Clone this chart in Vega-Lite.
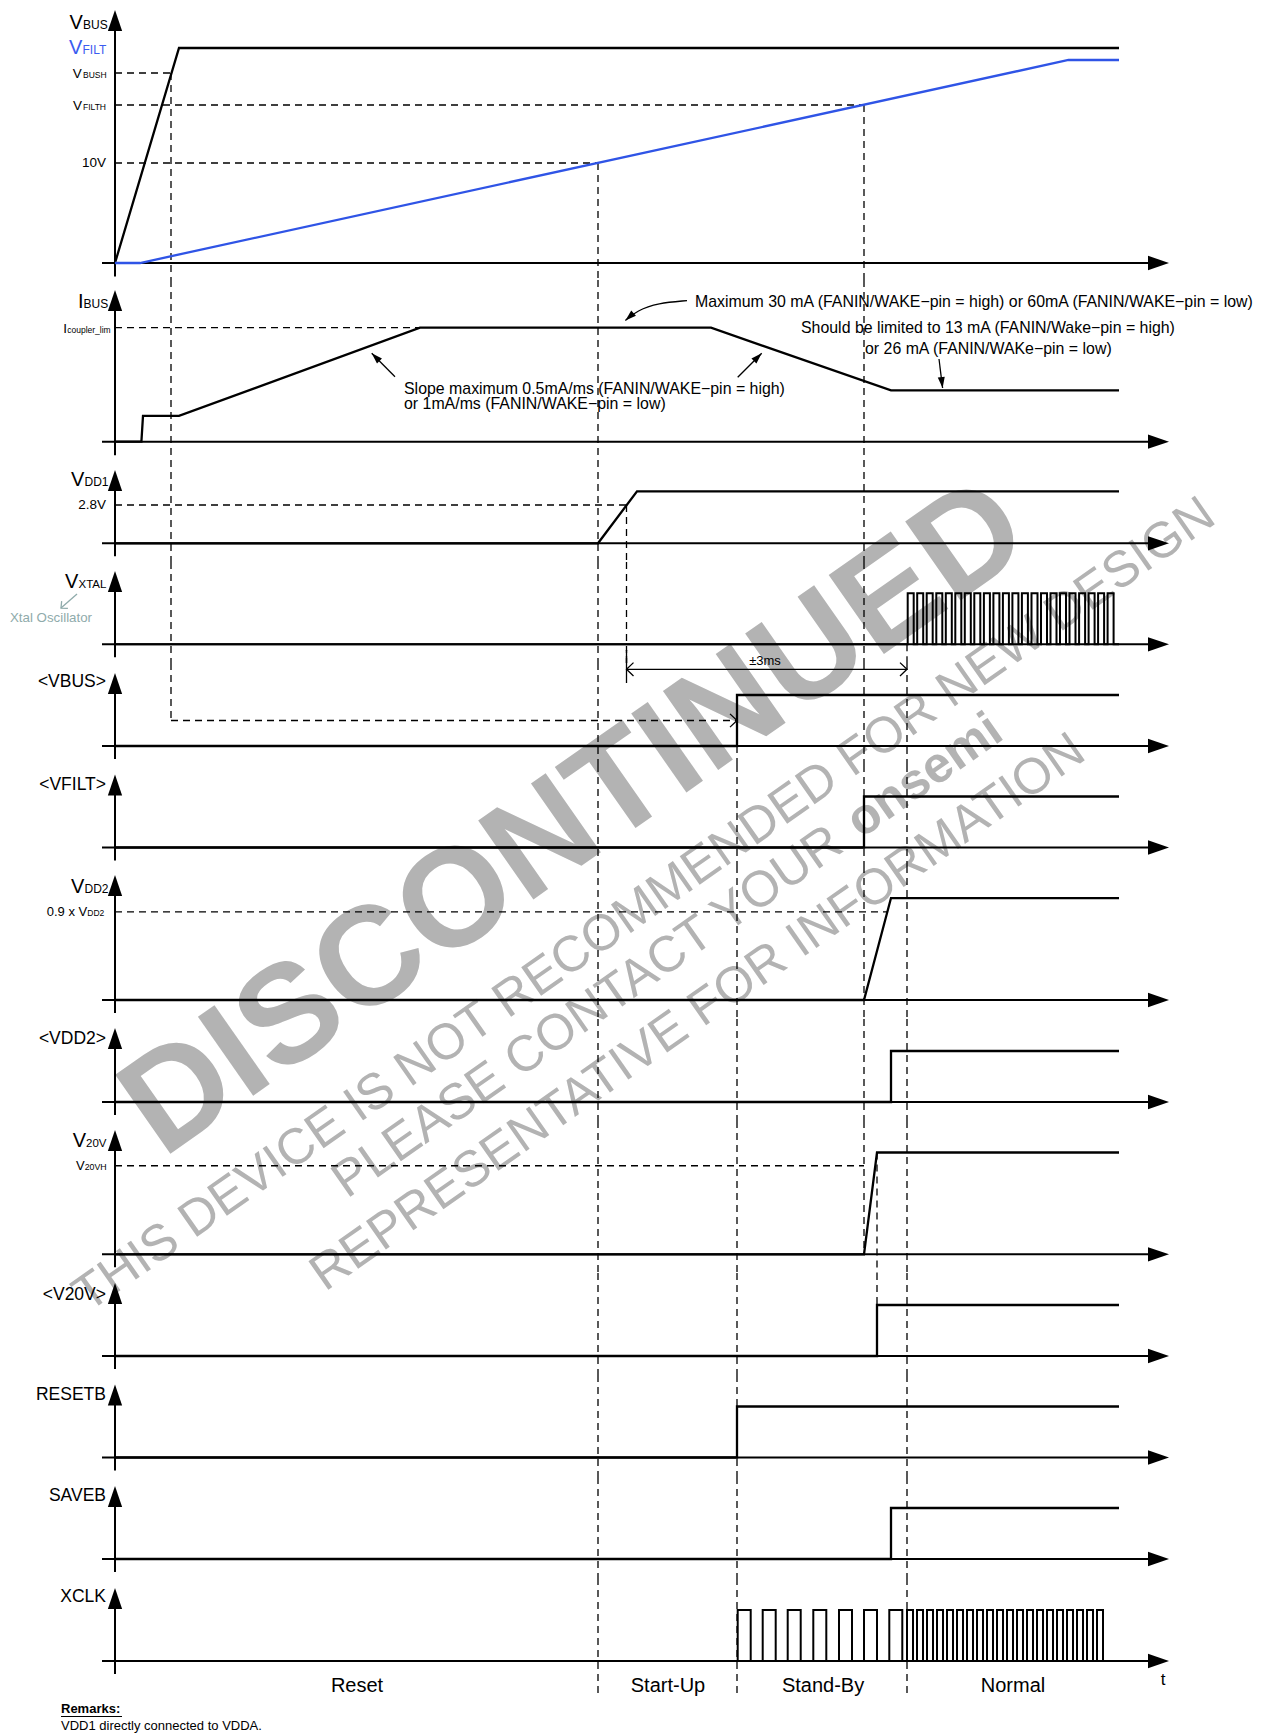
{
"$schema":"https://vega.github.io/schema/vega-lite/v6.json",
"padding":0,
"background":"white",
"spacing":0,
"bounds":"flush",
"config":{"view":{"stroke":null},"font":"Liberation Sans","text":{"font":"Liberation Sans"}},
"resolve":{"scale":{"x":"independent","y":"independent"}},
"datasets":{
"sig":[
{"s":"VBUS","t":0,"v":0},{"s":"VBUS","t":6.4,"v":21.5},{"s":"VBUS","t":100.4,"v":21.5},
{"s":"VFILT","t":0,"v":0},{"s":"VFILT","t":2.5,"v":0},{"s":"VFILT","t":95.35,"v":20.3},{"s":"VFILT","t":100.4,"v":20.3},
{"s":"IBUS","t":0,"v":0},{"s":"IBUS","t":2.64,"v":0},{"s":"IBUS","t":2.8,"v":6.8},{"s":"IBUS","t":6.4,"v":6.8},{"s":"IBUS","t":30.5,"v":30},{"s":"IBUS","t":59.6,"v":30},{"s":"IBUS","t":77.6,"v":13.5},{"s":"IBUS","t":100.4,"v":13.5},
{"s":"VDD1","t":0,"v":0},{"s":"VDD1","t":48.3,"v":0},{"s":"VDD1","t":52.2,"v":3.8},{"s":"VDD1","t":100.4,"v":3.8},
{"s":"VDD2","t":0,"v":0},{"s":"VDD2","t":74.9,"v":0},{"s":"VDD2","t":77.6,"v":1.04},{"s":"VDD2","t":100.4,"v":1.04},
{"s":"V20V","t":0,"v":0},{"s":"V20V","t":74.9,"v":0},{"s":"V20V","t":76.2,"v":20},{"s":"V20V","t":100.4,"v":20}
],
"step":[
{"s":"VXTAL","t":0,"v":0},
{"s":"VXTAL","t":79.27,"v":1},{"s":"VXTAL","t":79.87,"v":0},{"s":"VXTAL","t":80.22,"v":1},{"s":"VXTAL","t":80.82,"v":0},
{"s":"VXTAL","t":81.17,"v":1},{"s":"VXTAL","t":81.77,"v":0},{"s":"VXTAL","t":82.13,"v":1},{"s":"VXTAL","t":82.73,"v":0},
{"s":"VXTAL","t":83.08,"v":1},{"s":"VXTAL","t":83.68,"v":0},{"s":"VXTAL","t":84.03,"v":1},{"s":"VXTAL","t":84.63,"v":0},
{"s":"VXTAL","t":84.98,"v":1},{"s":"VXTAL","t":85.58,"v":0},{"s":"VXTAL","t":85.93,"v":1},{"s":"VXTAL","t":86.53,"v":0},
{"s":"VXTAL","t":86.89,"v":1},{"s":"VXTAL","t":87.49,"v":0},{"s":"VXTAL","t":87.84,"v":1},{"s":"VXTAL","t":88.44,"v":0},
{"s":"VXTAL","t":88.79,"v":1},{"s":"VXTAL","t":89.39,"v":0},{"s":"VXTAL","t":89.74,"v":1},{"s":"VXTAL","t":90.34,"v":0},
{"s":"VXTAL","t":90.69,"v":1},{"s":"VXTAL","t":91.29,"v":0},{"s":"VXTAL","t":91.65,"v":1},{"s":"VXTAL","t":92.25,"v":0},
{"s":"VXTAL","t":92.6,"v":1},{"s":"VXTAL","t":93.2,"v":0},{"s":"VXTAL","t":93.55,"v":1},{"s":"VXTAL","t":94.15,"v":0},
{"s":"VXTAL","t":94.5,"v":1},{"s":"VXTAL","t":95.1,"v":0},{"s":"VXTAL","t":95.45,"v":1},{"s":"VXTAL","t":96.05,"v":0},
{"s":"VXTAL","t":96.41,"v":1},{"s":"VXTAL","t":97.01,"v":0},{"s":"VXTAL","t":97.36,"v":1},{"s":"VXTAL","t":97.96,"v":0},
{"s":"VXTAL","t":98.31,"v":1},{"s":"VXTAL","t":98.91,"v":0},{"s":"VXTAL","t":99.26,"v":1},{"s":"VXTAL","t":99.86,"v":0},
{"s":"VXTAL","t":100.4,"v":0},
{"s":"<VBUS>","t":0,"v":0},{"s":"<VBUS>","t":62.2,"v":1},{"s":"<VBUS>","t":100.4,"v":1},
{"s":"<VFILT>","t":0,"v":0},{"s":"<VFILT>","t":74.9,"v":1},{"s":"<VFILT>","t":100.4,"v":1},
{"s":"<VDD2>","t":0,"v":0},{"s":"<VDD2>","t":77.6,"v":1},{"s":"<VDD2>","t":100.4,"v":1},
{"s":"<V20V>","t":0,"v":0},{"s":"<V20V>","t":76.2,"v":1},{"s":"<V20V>","t":100.4,"v":1},
{"s":"RESETB","t":0,"v":0},{"s":"RESETB","t":62.2,"v":1},{"s":"RESETB","t":100.4,"v":1},
{"s":"SAVEB","t":0,"v":0},{"s":"SAVEB","t":77.6,"v":1},{"s":"SAVEB","t":100.4,"v":1},
{"s":"XCLK","t":0,"v":0},
{"s":"XCLK","t":62.27,"v":1},{"s":"XCLK","t":63.57,"v":0},{"s":"XCLK","t":64.77,"v":1},{"s":"XCLK","t":66.07,"v":0},
{"s":"XCLK","t":67.27,"v":1},{"s":"XCLK","t":68.57,"v":0},{"s":"XCLK","t":69.83,"v":1},{"s":"XCLK","t":71.13,"v":0},
{"s":"XCLK","t":72.4,"v":1},{"s":"XCLK","t":73.7,"v":0},{"s":"XCLK","t":74.9,"v":1},{"s":"XCLK","t":76.2,"v":0},
{"s":"XCLK","t":77.43,"v":1},{"s":"XCLK","t":78.73,"v":0},
{"s":"XCLK","t":79.2,"v":1},{"s":"XCLK","t":79.8,"v":0},{"s":"XCLK","t":80.2,"v":1},{"s":"XCLK","t":80.8,"v":0},
{"s":"XCLK","t":81.2,"v":1},{"s":"XCLK","t":81.8,"v":0},{"s":"XCLK","t":82.2,"v":1},{"s":"XCLK","t":82.8,"v":0},
{"s":"XCLK","t":83.2,"v":1},{"s":"XCLK","t":83.8,"v":0},{"s":"XCLK","t":84.2,"v":1},{"s":"XCLK","t":84.8,"v":0},
{"s":"XCLK","t":85.2,"v":1},{"s":"XCLK","t":85.8,"v":0},{"s":"XCLK","t":86.2,"v":1},{"s":"XCLK","t":86.8,"v":0},
{"s":"XCLK","t":87.2,"v":1},{"s":"XCLK","t":87.8,"v":0},{"s":"XCLK","t":88.2,"v":1},{"s":"XCLK","t":88.8,"v":0},
{"s":"XCLK","t":89.2,"v":1},{"s":"XCLK","t":89.8,"v":0},{"s":"XCLK","t":90.2,"v":1},{"s":"XCLK","t":90.8,"v":0},
{"s":"XCLK","t":91.2,"v":1},{"s":"XCLK","t":91.8,"v":0},{"s":"XCLK","t":92.2,"v":1},{"s":"XCLK","t":92.8,"v":0},
{"s":"XCLK","t":93.2,"v":1},{"s":"XCLK","t":93.8,"v":0},{"s":"XCLK","t":94.2,"v":1},{"s":"XCLK","t":94.8,"v":0},
{"s":"XCLK","t":95.2,"v":1},{"s":"XCLK","t":95.8,"v":0},{"s":"XCLK","t":96.2,"v":1},{"s":"XCLK","t":96.8,"v":0},
{"s":"XCLK","t":97.2,"v":1},{"s":"XCLK","t":97.8,"v":0},{"s":"XCLK","t":98.2,"v":1},{"s":"XCLK","t":98.8,"v":0},
{"s":"XCLK","t":100.4,"v":0}
],
"curve":[{"t":57.2,"v":37.13},{"t":54.3,"v":36.5},{"t":52.2,"v":34.5},{"t":51.04,"v":31.9}],
"seg":[
{"p":1,"k":"a","t":0,"v":-1.35,"t2":0,"v2":24.2},{"p":1,"k":"a","t":-1.3,"v":0,"t2":103.5,"v2":0},
{"p":1,"k":"d","t":0,"v":19,"t2":5.6,"v2":19},{"p":1,"k":"d","t":0,"v":15.8,"t2":74.9,"v2":15.8},{"p":1,"k":"d","t":0,"v":10,"t2":48.3,"v2":10},
{"p":1,"k":"d","t":5.6,"v":19,"t2":5.6,"v2":-1.7},{"p":1,"k":"d","t":48.3,"v":10,"t2":48.3,"v2":-1.7},{"p":1,"k":"d","t":74.9,"v":15.8,"t2":74.9,"v2":-1.7},
{"p":2,"k":"a","t":0,"v":-3.55,"t2":0,"v2":37.0},{"p":2,"k":"a","t":-1.3,"v":0,"t2":103.5,"v2":0},
{"p":2,"k":"d","t":0,"v":30,"t2":30.5,"v2":30},{"p":2,"k":"d","t":5.6,"v":42.553,"t2":5.6,"v2":-4.816},{"p":2,"k":"d","t":48.3,"v":42.553,"t2":48.3,"v2":-4.816},{"p":2,"k":"d","t":74.9,"v":42.553,"t2":74.9,"v2":-4.816},
{"p":2,"k":"s","t":28.0,"v":17.1,"t2":25.67,"v2":23.26},{"p":2,"k":"s","t":62.27,"v":16.95,"t2":64.67,"v2":23.26},{"p":2,"k":"s","t":82.4,"v":21.76,"t2":82.76,"v2":14.13},
{"p":3,"k":"a","t":0,"v":-0.95,"t2":0,"v2":4.56},{"p":3,"k":"a","t":-1.3,"v":0,"t2":103.5,"v2":0},
{"p":3,"k":"d","t":0,"v":2.8,"t2":51.15,"v2":2.8},{"p":3,"k":"d","t":5.6,"v":6.089,"t2":5.6,"v2":-1.367},{"p":3,"k":"d","t":48.3,"v":6.089,"t2":48.3,"v2":-1.367},{"p":3,"k":"d","t":74.9,"v":6.089,"t2":74.9,"v2":-1.367},{"p":3,"k":"d","t":51.15,"v":2.8,"t2":51.15,"v2":-1.367},
{"p":4,"k":"a","t":0,"v":-0.255,"t2":0,"v2":1.2},{"p":4,"k":"a","t":-1.3,"v":0,"t2":103.5,"v2":0},
{"p":4,"k":"d","t":5.6,"v":1.614,"t2":5.6,"v2":-0.367},{"p":4,"k":"d","t":48.3,"v":1.614,"t2":48.3,"v2":-0.367},{"p":4,"k":"d","t":51.15,"v":1.614,"t2":51.15,"v2":-0.367},{"p":4,"k":"d","t":74.9,"v":1.614,"t2":74.9,"v2":-0.367},{"p":4,"k":"d","t":79.2,"v":0,"t2":79.2,"v2":-0.367},
{"p":4,"k":"tl","t":-3.8,"v":0.986,"t2":-5.4,"v2":0.711},
{"p":5,"k":"a","t":0,"v":-0.255,"t2":0,"v2":1.2},{"p":5,"k":"a","t":-1.3,"v":0,"t2":103.5,"v2":0},
{"p":5,"k":"d","t":5.6,"v":1.6275,"t2":5.6,"v2":0.5},{"p":5,"k":"d","t":48.3,"v":1.6275,"t2":48.3,"v2":-0.3725},{"p":5,"k":"d","t":51.15,"v":1.6275,"t2":51.15,"v2":1.88},{"p":5,"k":"d","t":74.9,"v":1.6275,"t2":74.9,"v2":-0.3725},{"p":5,"k":"d","t":79.2,"v":1.6275,"t2":79.2,"v2":-0.3725},{"p":5,"k":"d","t":5.6,"v":0.5,"t2":62.2,"v2":0.5},{"p":5,"k":"d","t":62.2,"v":0,"t2":62.2,"v2":-0.3725},
{"p":5,"k":"s","t":51.15,"v":1.88,"t2":51.15,"v2":1.235},{"p":5,"k":"s","t":51.15,"v":1.504,"t2":79.2,"v2":1.504},
{"p":6,"k":"a","t":0,"v":-0.255,"t2":0,"v2":1.2},{"p":6,"k":"a","t":-1.3,"v":0,"t2":103.5,"v2":0},
{"p":6,"k":"d","t":48.3,"v":1.6176,"t2":48.3,"v2":-0.3627},{"p":6,"k":"d","t":62.2,"v":1.6176,"t2":62.2,"v2":-0.3627},{"p":6,"k":"d","t":74.9,"v":1.6176,"t2":74.9,"v2":-0.3627},{"p":6,"k":"d","t":79.2,"v":1.6176,"t2":79.2,"v2":-0.3627},
{"p":7,"k":"a","t":0,"v":-0.133,"t2":0,"v2":1.16},{"p":7,"k":"a","t":-1.3,"v":0,"t2":103.5,"v2":0},
{"p":7,"k":"d","t":48.3,"v":1.3673,"t2":48.3,"v2":-0.1939},{"p":7,"k":"d","t":62.2,"v":1.3673,"t2":62.2,"v2":-0.1939},{"p":7,"k":"d","t":74.9,"v":1.3673,"t2":74.9,"v2":-0.1939},{"p":7,"k":"d","t":79.2,"v":1.3673,"t2":79.2,"v2":-0.1939},{"p":7,"k":"d","t":0,"v":0.9,"t2":77.2,"v2":0.9},
{"p":8,"k":"a","t":0,"v":-0.255,"t2":0,"v2":1.23},{"p":8,"k":"a","t":-1.3,"v":0,"t2":103.5,"v2":0},
{"p":8,"k":"d","t":48.3,"v":1.6275,"t2":48.3,"v2":-0.3725},{"p":8,"k":"d","t":62.2,"v":1.6275,"t2":62.2,"v2":-0.3725},{"p":8,"k":"d","t":74.9,"v":1.6275,"t2":74.9,"v2":-0.3725},{"p":8,"k":"d","t":79.2,"v":1.6275,"t2":79.2,"v2":-0.3725},
{"p":9,"k":"a","t":0,"v":-2.55,"t2":0,"v2":22.3},{"p":9,"k":"a","t":-1.3,"v":0,"t2":103.5,"v2":0},
{"p":9,"k":"d","t":48.3,"v":26.19,"t2":48.3,"v2":-3.674},{"p":9,"k":"d","t":62.2,"v":26.19,"t2":62.2,"v2":-3.674},{"p":9,"k":"d","t":79.2,"v":26.19,"t2":79.2,"v2":-3.674},{"p":9,"k":"d","t":74.9,"v":26.19,"t2":74.9,"v2":0},{"p":9,"k":"d","t":0,"v":17.4,"t2":74.9,"v2":17.4},{"p":9,"k":"d","t":76.2,"v":20,"t2":76.2,"v2":-3.674},
{"p":10,"k":"a","t":0,"v":-0.255,"t2":0,"v2":1.2},{"p":10,"k":"a","t":-1.3,"v":0,"t2":103.5,"v2":0},
{"p":10,"k":"d","t":48.3,"v":1.6275,"t2":48.3,"v2":-0.3725},{"p":10,"k":"d","t":62.2,"v":1.6275,"t2":62.2,"v2":-0.3725},{"p":10,"k":"d","t":79.2,"v":1.6275,"t2":79.2,"v2":-0.3725},{"p":10,"k":"d","t":76.2,"v":1.6275,"t2":76.2,"v2":1},
{"p":11,"k":"a","t":0,"v":-0.255,"t2":0,"v2":1.2},{"p":11,"k":"a","t":-1.3,"v":0,"t2":103.5,"v2":0},
{"p":11,"k":"d","t":48.3,"v":1.6176,"t2":48.3,"v2":-0.3824},{"p":11,"k":"d","t":62.2,"v":1.6176,"t2":62.2,"v2":-0.3824},{"p":11,"k":"d","t":79.2,"v":1.6176,"t2":79.2,"v2":-0.3824},
{"p":12,"k":"a","t":0,"v":-0.255,"t2":0,"v2":1.2},{"p":12,"k":"a","t":-1.3,"v":0,"t2":103.5,"v2":0},
{"p":12,"k":"d","t":48.3,"v":1.6078,"t2":48.3,"v2":-0.3725},{"p":12,"k":"d","t":62.2,"v":1.6078,"t2":62.2,"v2":-0.3725},{"p":12,"k":"d","t":79.2,"v":1.6078,"t2":79.2,"v2":-0.3725},
{"p":13,"k":"a","t":0,"v":-0.255,"t2":0,"v2":1.2},{"p":13,"k":"a","t":-1.3,"v":0,"t2":103.5,"v2":0},
{"p":13,"k":"d","t":48.3,"v":1.6275,"t2":48.3,"v2":-0.686},{"p":13,"k":"d","t":62.2,"v":1.6275,"t2":62.2,"v2":-0.686},{"p":13,"k":"d","t":79.2,"v":1.6275,"t2":79.2,"v2":-0.686},
{"p":13,"k":"s","t":-5.4,"v":-1.088,"t2":0.7,"v2":-1.088}
],
"head":[
{"p":1,"k":"ax","t":0,"v":25.3,"dir":0},{"p":1,"k":"ax","t":105.4,"v":0,"dir":90},
{"p":2,"k":"ax","t":0,"v":39.9,"dir":0},{"p":2,"k":"ax","t":105.4,"v":0,"dir":90},
{"p":3,"k":"ax","t":0,"v":5.36,"dir":0},{"p":3,"k":"ax","t":105.4,"v":0,"dir":90},
{"p":4,"k":"ax","t":0,"v":1.437,"dir":0},{"p":4,"k":"ax","t":105.4,"v":0,"dir":90},
{"p":5,"k":"ax","t":0,"v":1.431,"dir":0},{"p":5,"k":"ax","t":105.4,"v":0,"dir":90},
{"p":6,"k":"ax","t":0,"v":1.429,"dir":0},{"p":6,"k":"ax","t":105.4,"v":0,"dir":90},
{"p":7,"k":"ax","t":0,"v":1.276,"dir":0},{"p":7,"k":"ax","t":105.4,"v":0,"dir":90},
{"p":8,"k":"ax","t":0,"v":1.45,"dir":0},{"p":8,"k":"ax","t":105.4,"v":0,"dir":90},
{"p":9,"k":"ax","t":0,"v":24.42,"dir":0},{"p":9,"k":"ax","t":105.4,"v":0,"dir":90},
{"p":10,"k":"ax","t":0,"v":1.431,"dir":0},{"p":10,"k":"ax","t":105.4,"v":0,"dir":90},
{"p":11,"k":"ax","t":0,"v":1.429,"dir":0},{"p":11,"k":"ax","t":105.4,"v":0,"dir":90},
{"p":12,"k":"ax","t":0,"v":1.431,"dir":0},{"p":12,"k":"ax","t":105.4,"v":0,"dir":90},
{"p":13,"k":"ax","t":0,"v":1.431,"dir":0},{"p":13,"k":"ax","t":105.4,"v":0,"dir":90},
{"p":2,"k":"ptr","t":25.67,"v":23.26,"dir":315},{"p":2,"k":"ptr","t":64.67,"v":23.26,"dir":45},{"p":2,"k":"ptr","t":82.76,"v":14.13,"dir":173},{"p":2,"k":"ptr","t":51.04,"v":31.9,"dir":228},
{"p":5,"k":"chev","t":62.2,"v":0.5,"dir":90},{"p":5,"k":"chev","t":51.15,"v":1.504,"dir":270},{"p":5,"k":"chev","t":79.2,"v":1.504,"dir":90},
{"p":4,"k":"tchev","t":-5.4,"v":0.711,"dir":229}
],
"txt":[
{"p":1,"k":"L","t":-4.55,"v":23.37,"txt":"V"},{"p":1,"k":"Ls","t":-3.2,"v":23.37,"txt":"BUS"},
{"p":1,"k":"Lb","t":-4.6,"v":20.87,"txt":"V"},{"p":1,"k":"Lbs","t":-3.25,"v":20.87,"txt":"FILT"},
{"p":1,"k":"Tv","t":-4.23,"v":18.53,"txt":"V"},{"p":1,"k":"Ts","t":-3.2,"v":18.53,"txt":"BUSH"},
{"p":1,"k":"Tv","t":-4.2,"v":15.3,"txt":"V"},{"p":1,"k":"Ts","t":-3.2,"v":15.3,"txt":"FILTH"},
{"p":1,"k":"T","t":-0.9,"v":10,"txt":"10V"},
{"p":1,"k":"W","t":46.0,"v":-55.6,"txt":"DISCONTINUED"},
{"p":1,"k":"Ws","t":-2.7,"v":-105.0,"txt":"THIS DEVICE IS NOT RECOMMENDED FOR NEW DESIGN"},
{"p":1,"k":"Ws","t":23.2,"v":-93.6,"txt":"PLEASE CONTACT YOUR"},
{"p":1,"k":"Wb","t":74.6,"v":-57.6,"txt":"onsemi"},
{"p":1,"k":"Ws","t":21.0,"v":-102.9,"txt":"REPRESENTATIVE FOR INFORMATION"},
{"p":2,"k":"L","t":-3.7,"v":35.1,"txt":"I"},{"p":2,"k":"Ls","t":-3.15,"v":35.1,"txt":"BUS"},
{"p":2,"k":"Tv","t":-5.17,"v":28.7,"txt":"I"},{"p":2,"k":"Ts","t":-4.78,"v":28.7,"txt":"coupler_lim"},
{"p":2,"k":"N","t":58.0,"v":36.84,"txt":"Maximum 30 mA (FANIN/WAKE−pin = high) or 60mA (FANIN/WAKE−pin = low)"},
{"p":2,"k":"N","t":68.6,"v":29.92,"txt":"Should be limited to 13 mA (FANIN/Wake−pin = high)"},
{"p":2,"k":"N","t":75.0,"v":24.39,"txt":"or 26 mA (FANIN/WAKe−pin = low)"},
{"p":2,"k":"N","t":28.9,"v":13.87,"txt":"Slope maximum 0.5mA/ms (FANIN/WAKE−pin = high)"},
{"p":2,"k":"N","t":28.9,"v":9.92,"txt":"or 1mA/ms (FANIN/WAKE−pin = low)"},
{"p":3,"k":"L","t":-4.4,"v":4.19,"txt":"V"},{"p":3,"k":"Ls","t":-3.05,"v":4.19,"txt":"DD1"},
{"p":3,"k":"T","t":-0.9,"v":2.8,"txt":"2.8V"},
{"p":4,"k":"L","t":-5.0,"v":1.098,"txt":"V"},{"p":4,"k":"Ls","t":-3.65,"v":1.098,"txt":"XTAL"},
{"p":4,"k":"X","t":-10.5,"v":0.516,"txt":"Xtal Oscillator"},
{"p":5,"k":"B","t":-0.9,"v":1.255,"txt":"<VBUS>"},
{"p":5,"k":"M","t":65.0,"v":1.673,"txt":"±3ms"},
{"p":6,"k":"B","t":-0.9,"v":1.233,"txt":"<VFILT>"},
{"p":7,"k":"L","t":-4.4,"v":1.095,"txt":"V"},{"p":7,"k":"Ls","t":-3.05,"v":1.095,"txt":"DD2"},
{"p":7,"k":"T2","t":-6.83,"v":0.854,"txt":"0.9 x V"},{"p":7,"k":"Ts","t":-2.77,"v":0.854,"txt":"DD2"},
{"p":8,"k":"B","t":-0.9,"v":1.235,"txt":"<VDD2>"},
{"p":9,"k":"L","t":-4.23,"v":21.0,"txt":"V"},{"p":9,"k":"Ls","t":-2.9,"v":21.0,"txt":"20V"},
{"p":9,"k":"Tv","t":-3.9,"v":16.5,"txt":"V"},{"p":9,"k":"Ts","t":-3.03,"v":16.5,"txt":"20VH"},
{"p":10,"k":"B","t":-0.9,"v":1.196,"txt":"<V20V>"},
{"p":11,"k":"B","t":-0.9,"v":1.225,"txt":"RESETB"},
{"p":12,"k":"B","t":-0.9,"v":1.235,"txt":"SAVEB"},
{"p":13,"k":"B","t":-0.9,"v":1.255,"txt":"XCLK"},
{"p":13,"k":"P","t":24.2,"v":-0.49,"txt":"Reset"},{"p":13,"k":"P","t":55.3,"v":-0.49,"txt":"Start-Up"},{"p":13,"k":"P","t":70.8,"v":-0.49,"txt":"Stand-By"},{"p":13,"k":"P","t":89.8,"v":-0.49,"txt":"Normal"},
{"p":13,"k":"tt","t":104.8,"v":-0.373,"txt":"t"},
{"p":13,"k":"RB","t":-5.4,"v":-0.941,"txt":"Remarks:"},
{"p":13,"k":"R","t":-5.4,"v":-1.275,"txt":"VDD1 directly connected to VDDA."}
]
},
"vconcat":[
{"width":1263,"height":280,
"encoding":{"x":{"field":"t","type":"quantitative","scale":{"domain":[-11.5,114.8],"nice":false,"zero":false},"axis":null},"y":{"field":"v","type":"quantitative","scale":{"domain":[-1.7,26.3],"nice":false,"zero":false},"axis":null}},
"layer":[
{"data":{"name":"txt"},"transform":[{"filter":"datum.p==1 && datum.k=='W'"}],"mark":{"type":"text","fontSize":140,"fontWeight":"bold","align":"center","baseline":"middle","angle":-35,"color":"#b3b3b3"},"encoding":{"text":{"field":"txt"}}},
{"data":{"name":"txt"},"transform":[{"filter":"datum.p==1 && datum.k=='Ws'"}],"mark":{"type":"text","fontSize":50.5,"align":"left","baseline":"alphabetic","angle":-35,"color":"#b3b3b3"},"encoding":{"text":{"field":"txt"}}},
{"data":{"name":"txt"},"transform":[{"filter":"datum.p==1 && datum.k=='Wb'"}],"mark":{"type":"text","fontSize":50.5,"fontWeight":"bold","align":"left","baseline":"alphabetic","angle":-35,"color":"#b3b3b3"},"encoding":{"text":{"field":"txt"}}},
{"data":{"name":"seg"},"transform":[{"filter":"datum.p==1 && datum.k=='d'"}],"mark":{"type":"rule","color":"black","strokeWidth":1.3,"strokeDash":[7,5]},"encoding":{"x2":{"field":"t2"},"y2":{"field":"v2"}}},
{"data":{"name":"seg"},"transform":[{"filter":"datum.p==1 && datum.k=='a'"}],"mark":{"type":"rule","color":"black","strokeWidth":2},"encoding":{"x2":{"field":"t2"},"y2":{"field":"v2"}}},
{"data":{"name":"sig"},"transform":[{"filter":"datum.s=='VBUS'"}],"mark":{"type":"line","color":"black","strokeWidth":2.3},"encoding":{"order":{"value":null}}},
{"data":{"name":"sig"},"transform":[{"filter":"datum.s=='VFILT'"}],"mark":{"type":"line","color":"#2f54e6","strokeWidth":2.3},"encoding":{"order":{"value":null}}},
{"data":{"name":"head"},"transform":[{"filter":"datum.p==1 && datum.k=='ax'"}],"mark":{"type":"point","shape":"M0,0L-0.34,1L0.34,1Z","size":1764,"filled":true,"color":"black","opacity":1,"strokeWidth":0},"encoding":{"angle":{"field":"dir","type":"quantitative","scale":null}}},
{"data":{"name":"txt"},"transform":[{"filter":"datum.p==1 && datum.k=='L'"}],"mark":{"type":"text","fontSize":20,"align":"left","baseline":"alphabetic","color":"black"},"encoding":{"text":{"field":"txt"}}},
{"data":{"name":"txt"},"transform":[{"filter":"datum.p==1 && datum.k=='Ls'"}],"mark":{"type":"text","fontSize":12,"align":"left","baseline":"alphabetic","color":"black"},"encoding":{"text":{"field":"txt"}}},
{"data":{"name":"txt"},"transform":[{"filter":"datum.p==1 && datum.k=='Lb'"}],"mark":{"type":"text","fontSize":20,"align":"left","baseline":"alphabetic","color":"#3a5cf0"},"encoding":{"text":{"field":"txt"}}},
{"data":{"name":"txt"},"transform":[{"filter":"datum.p==1 && datum.k=='Lbs'"}],"mark":{"type":"text","fontSize":12,"align":"left","baseline":"alphabetic","color":"#3a5cf0"},"encoding":{"text":{"field":"txt"}}},
{"data":{"name":"txt"},"transform":[{"filter":"datum.p==1 && datum.k=='Tv'"}],"mark":{"type":"text","fontSize":13.5,"align":"left","baseline":"alphabetic","color":"black"},"encoding":{"text":{"field":"txt"}}},
{"data":{"name":"txt"},"transform":[{"filter":"datum.p==1 && datum.k=='Ts'"}],"mark":{"type":"text","fontSize":8.5,"align":"left","baseline":"alphabetic","color":"black"},"encoding":{"text":{"field":"txt"}}},
{"data":{"name":"txt"},"transform":[{"filter":"datum.p==1 && datum.k=='T'"}],"mark":{"type":"text","fontSize":13.5,"align":"right","baseline":"middle","color":"black"},"encoding":{"text":{"field":"txt"}}}
]},
{"width":1263,"height":180,
"encoding":{"x":{"field":"t","type":"quantitative","scale":{"domain":[-11.5,114.8],"nice":false,"zero":false},"axis":null},"y":{"field":"v","type":"quantitative","scale":{"domain":[-4.816,42.553],"nice":false,"zero":false},"axis":null}},
"layer":[
{"data":{"name":"seg"},"transform":[{"filter":"datum.p==2 && datum.k=='d'"}],"mark":{"type":"rule","color":"black","strokeWidth":1.3,"strokeDash":[7,5]},"encoding":{"x2":{"field":"t2"},"y2":{"field":"v2"}}},
{"data":{"name":"seg"},"transform":[{"filter":"datum.p==2 && datum.k=='a'"}],"mark":{"type":"rule","color":"black","strokeWidth":2},"encoding":{"x2":{"field":"t2"},"y2":{"field":"v2"}}},
{"data":{"name":"seg"},"transform":[{"filter":"datum.p==2 && datum.k=='s'"}],"mark":{"type":"rule","color":"black","strokeWidth":1.3},"encoding":{"x2":{"field":"t2"},"y2":{"field":"v2"}}},
{"data":{"name":"sig"},"transform":[{"filter":"datum.s=='IBUS'"}],"mark":{"type":"line","color":"black","strokeWidth":2.3},"encoding":{"order":{"value":null}}},
{"data":{"name":"curve"},"mark":{"type":"line","color":"black","strokeWidth":1.3,"interpolate":"basis"},"encoding":{"order":{"value":null}}},
{"data":{"name":"head"},"transform":[{"filter":"datum.p==2 && datum.k=='ax'"}],"mark":{"type":"point","shape":"M0,0L-0.34,1L0.34,1Z","size":1764,"filled":true,"color":"black","opacity":1,"strokeWidth":0},"encoding":{"angle":{"field":"dir","type":"quantitative","scale":null}}},
{"data":{"name":"head"},"transform":[{"filter":"datum.p==2 && datum.k=='ptr'"}],"mark":{"type":"point","shape":"M0,0L-0.32,1L0.32,1Z","size":484,"filled":true,"color":"black","opacity":1,"strokeWidth":0},"encoding":{"angle":{"field":"dir","type":"quantitative","scale":null}}},
{"data":{"name":"txt"},"transform":[{"filter":"datum.p==2 && datum.k=='L'"}],"mark":{"type":"text","fontSize":20,"align":"left","baseline":"alphabetic","color":"black"},"encoding":{"text":{"field":"txt"}}},
{"data":{"name":"txt"},"transform":[{"filter":"datum.p==2 && datum.k=='Ls'"}],"mark":{"type":"text","fontSize":12,"align":"left","baseline":"alphabetic","color":"black"},"encoding":{"text":{"field":"txt"}}},
{"data":{"name":"txt"},"transform":[{"filter":"datum.p==2 && datum.k=='Tv'"}],"mark":{"type":"text","fontSize":13.5,"align":"left","baseline":"alphabetic","color":"black"},"encoding":{"text":{"field":"txt"}}},
{"data":{"name":"txt"},"transform":[{"filter":"datum.p==2 && datum.k=='Ts'"}],"mark":{"type":"text","fontSize":8.5,"align":"left","baseline":"alphabetic","color":"black"},"encoding":{"text":{"field":"txt"}}},
{"data":{"name":"txt"},"transform":[{"filter":"datum.p==2 && datum.k=='N'"}],"mark":{"type":"text","fontSize":15.9,"align":"left","baseline":"middle","color":"black"},"encoding":{"text":{"field":"txt"}}}
]},
{"width":1263,"height":102,
"encoding":{"x":{"field":"t","type":"quantitative","scale":{"domain":[-11.5,114.8],"nice":false,"zero":false},"axis":null},"y":{"field":"v","type":"quantitative","scale":{"domain":[-1.367,6.089],"nice":false,"zero":false},"axis":null}},
"layer":[
{"data":{"name":"seg"},"transform":[{"filter":"datum.p==3 && datum.k=='d'"}],"mark":{"type":"rule","color":"black","strokeWidth":1.3,"strokeDash":[7,5]},"encoding":{"x2":{"field":"t2"},"y2":{"field":"v2"}}},
{"data":{"name":"seg"},"transform":[{"filter":"datum.p==3 && datum.k=='a'"}],"mark":{"type":"rule","color":"black","strokeWidth":2},"encoding":{"x2":{"field":"t2"},"y2":{"field":"v2"}}},
{"data":{"name":"sig"},"transform":[{"filter":"datum.s=='VDD1'"}],"mark":{"type":"line","color":"black","strokeWidth":2.3},"encoding":{"order":{"value":null}}},
{"data":{"name":"head"},"transform":[{"filter":"datum.p==3 && datum.k=='ax'"}],"mark":{"type":"point","shape":"M0,0L-0.34,1L0.34,1Z","size":1764,"filled":true,"color":"black","opacity":1,"strokeWidth":0},"encoding":{"angle":{"field":"dir","type":"quantitative","scale":null}}},
{"data":{"name":"txt"},"transform":[{"filter":"datum.p==3 && datum.k=='L'"}],"mark":{"type":"text","fontSize":20,"align":"left","baseline":"alphabetic","color":"black"},"encoding":{"text":{"field":"txt"}}},
{"data":{"name":"txt"},"transform":[{"filter":"datum.p==3 && datum.k=='Ls'"}],"mark":{"type":"text","fontSize":12,"align":"left","baseline":"alphabetic","color":"black"},"encoding":{"text":{"field":"txt"}}},
{"data":{"name":"txt"},"transform":[{"filter":"datum.p==3 && datum.k=='T'"}],"mark":{"type":"text","fontSize":13.5,"align":"right","baseline":"middle","color":"black"},"encoding":{"text":{"field":"txt"}}}
]},
{"width":1263,"height":101,
"encoding":{"x":{"field":"t","type":"quantitative","scale":{"domain":[-11.5,114.8],"nice":false,"zero":false},"axis":null},"y":{"field":"v","type":"quantitative","scale":{"domain":[-0.367,1.614],"nice":false,"zero":false},"axis":null}},
"layer":[
{"data":{"name":"seg"},"transform":[{"filter":"datum.p==4 && datum.k=='d'"}],"mark":{"type":"rule","color":"black","strokeWidth":1.3,"strokeDash":[7,5]},"encoding":{"x2":{"field":"t2"},"y2":{"field":"v2"}}},
{"data":{"name":"seg"},"transform":[{"filter":"datum.p==4 && datum.k=='a'"}],"mark":{"type":"rule","color":"black","strokeWidth":2},"encoding":{"x2":{"field":"t2"},"y2":{"field":"v2"}}},
{"data":{"name":"seg"},"transform":[{"filter":"datum.p==4 && datum.k=='tl'"}],"mark":{"type":"rule","color":"#8fabab","strokeWidth":1.3},"encoding":{"x2":{"field":"t2"},"y2":{"field":"v2"}}},
{"data":{"name":"step"},"transform":[{"filter":"datum.s=='VXTAL'"}],"mark":{"type":"line","color":"black","strokeWidth":2,"interpolate":"step-after"},"encoding":{"order":{"value":null}}},
{"data":{"name":"head"},"transform":[{"filter":"datum.p==4 && datum.k=='ax'"}],"mark":{"type":"point","shape":"M0,0L-0.34,1L0.34,1Z","size":1764,"filled":true,"color":"black","opacity":1,"strokeWidth":0},"encoding":{"angle":{"field":"dir","type":"quantitative","scale":null}}},
{"data":{"name":"head"},"transform":[{"filter":"datum.p==4 && datum.k=='tchev'"}],"mark":{"type":"point","shape":"M-0.95,1L0,0L0.95,1","size":100,"filled":false,"color":"#8fabab","strokeWidth":1.3,"opacity":1},"encoding":{"angle":{"field":"dir","type":"quantitative","scale":null}}},
{"data":{"name":"txt"},"transform":[{"filter":"datum.p==4 && datum.k=='L'"}],"mark":{"type":"text","fontSize":20,"align":"left","baseline":"alphabetic","color":"black"},"encoding":{"text":{"field":"txt"}}},
{"data":{"name":"txt"},"transform":[{"filter":"datum.p==4 && datum.k=='Ls'"}],"mark":{"type":"text","fontSize":11.5,"align":"left","baseline":"alphabetic","color":"black"},"encoding":{"text":{"field":"txt"}}},
{"data":{"name":"txt"},"transform":[{"filter":"datum.p==4 && datum.k=='X'"}],"mark":{"type":"text","fontSize":13.3,"align":"left","baseline":"middle","color":"#8fabab"},"encoding":{"text":{"field":"txt"}}}
]},
{"width":1263,"height":102,
"encoding":{"x":{"field":"t","type":"quantitative","scale":{"domain":[-11.5,114.8],"nice":false,"zero":false},"axis":null},"y":{"field":"v","type":"quantitative","scale":{"domain":[-0.3725,1.6275],"nice":false,"zero":false},"axis":null}},
"layer":[
{"data":{"name":"seg"},"transform":[{"filter":"datum.p==5 && datum.k=='d'"}],"mark":{"type":"rule","color":"black","strokeWidth":1.3,"strokeDash":[7,5]},"encoding":{"x2":{"field":"t2"},"y2":{"field":"v2"}}},
{"data":{"name":"seg"},"transform":[{"filter":"datum.p==5 && datum.k=='a'"}],"mark":{"type":"rule","color":"black","strokeWidth":2},"encoding":{"x2":{"field":"t2"},"y2":{"field":"v2"}}},
{"data":{"name":"seg"},"transform":[{"filter":"datum.p==5 && datum.k=='s'"}],"mark":{"type":"rule","color":"black","strokeWidth":1.3},"encoding":{"x2":{"field":"t2"},"y2":{"field":"v2"}}},
{"data":{"name":"step"},"transform":[{"filter":"datum.s=='<VBUS>'"}],"mark":{"type":"line","color":"black","strokeWidth":2.3,"interpolate":"step-after"},"encoding":{"order":{"value":null}}},
{"data":{"name":"head"},"transform":[{"filter":"datum.p==5 && datum.k=='ax'"}],"mark":{"type":"point","shape":"M0,0L-0.34,1L0.34,1Z","size":1764,"filled":true,"color":"black","opacity":1,"strokeWidth":0},"encoding":{"angle":{"field":"dir","type":"quantitative","scale":null}}},
{"data":{"name":"head"},"transform":[{"filter":"datum.p==5 && datum.k=='chev'"}],"mark":{"type":"point","shape":"M-0.95,1L0,0L0.95,1","size":196,"filled":false,"color":"black","strokeWidth":1.3,"opacity":1},"encoding":{"angle":{"field":"dir","type":"quantitative","scale":null}}},
{"data":{"name":"txt"},"transform":[{"filter":"datum.p==5 && datum.k=='B'"}],"mark":{"type":"text","fontSize":17.5,"align":"right","baseline":"middle","color":"black"},"encoding":{"text":{"field":"txt"}}},
{"data":{"name":"txt"},"transform":[{"filter":"datum.p==5 && datum.k=='M'"}],"mark":{"type":"text","fontSize":13,"align":"center","baseline":"middle","color":"black"},"encoding":{"text":{"field":"txt"}}}
]},
{"width":1263,"height":101,
"encoding":{"x":{"field":"t","type":"quantitative","scale":{"domain":[-11.5,114.8],"nice":false,"zero":false},"axis":null},"y":{"field":"v","type":"quantitative","scale":{"domain":[-0.3627,1.6176],"nice":false,"zero":false},"axis":null}},
"layer":[
{"data":{"name":"seg"},"transform":[{"filter":"datum.p==6 && datum.k=='d'"}],"mark":{"type":"rule","color":"black","strokeWidth":1.3,"strokeDash":[7,5]},"encoding":{"x2":{"field":"t2"},"y2":{"field":"v2"}}},
{"data":{"name":"seg"},"transform":[{"filter":"datum.p==6 && datum.k=='a'"}],"mark":{"type":"rule","color":"black","strokeWidth":2},"encoding":{"x2":{"field":"t2"},"y2":{"field":"v2"}}},
{"data":{"name":"step"},"transform":[{"filter":"datum.s=='<VFILT>'"}],"mark":{"type":"line","color":"black","strokeWidth":2.3,"interpolate":"step-after"},"encoding":{"order":{"value":null}}},
{"data":{"name":"head"},"transform":[{"filter":"datum.p==6 && datum.k=='ax'"}],"mark":{"type":"point","shape":"M0,0L-0.34,1L0.34,1Z","size":1764,"filled":true,"color":"black","opacity":1,"strokeWidth":0},"encoding":{"angle":{"field":"dir","type":"quantitative","scale":null}}},
{"data":{"name":"txt"},"transform":[{"filter":"datum.p==6 && datum.k=='B'"}],"mark":{"type":"text","fontSize":17.5,"align":"right","baseline":"middle","color":"black"},"encoding":{"text":{"field":"txt"}}}
]},
{"width":1263,"height":153,
"encoding":{"x":{"field":"t","type":"quantitative","scale":{"domain":[-11.5,114.8],"nice":false,"zero":false},"axis":null},"y":{"field":"v","type":"quantitative","scale":{"domain":[-0.1939,1.3673],"nice":false,"zero":false},"axis":null}},
"layer":[
{"data":{"name":"seg"},"transform":[{"filter":"datum.p==7 && datum.k=='d'"}],"mark":{"type":"rule","color":"black","strokeWidth":1.3,"strokeDash":[7,5]},"encoding":{"x2":{"field":"t2"},"y2":{"field":"v2"}}},
{"data":{"name":"seg"},"transform":[{"filter":"datum.p==7 && datum.k=='a'"}],"mark":{"type":"rule","color":"black","strokeWidth":2},"encoding":{"x2":{"field":"t2"},"y2":{"field":"v2"}}},
{"data":{"name":"sig"},"transform":[{"filter":"datum.s=='VDD2'"}],"mark":{"type":"line","color":"black","strokeWidth":2.3},"encoding":{"order":{"value":null}}},
{"data":{"name":"head"},"transform":[{"filter":"datum.p==7 && datum.k=='ax'"}],"mark":{"type":"point","shape":"M0,0L-0.34,1L0.34,1Z","size":1764,"filled":true,"color":"black","opacity":1,"strokeWidth":0},"encoding":{"angle":{"field":"dir","type":"quantitative","scale":null}}},
{"data":{"name":"txt"},"transform":[{"filter":"datum.p==7 && datum.k=='L'"}],"mark":{"type":"text","fontSize":20,"align":"left","baseline":"alphabetic","color":"black"},"encoding":{"text":{"field":"txt"}}},
{"data":{"name":"txt"},"transform":[{"filter":"datum.p==7 && datum.k=='Ls'"}],"mark":{"type":"text","fontSize":12,"align":"left","baseline":"alphabetic","color":"black"},"encoding":{"text":{"field":"txt"}}},
{"data":{"name":"txt"},"transform":[{"filter":"datum.p==7 && datum.k=='T2'"}],"mark":{"type":"text","fontSize":13,"align":"left","baseline":"alphabetic","color":"black"},"encoding":{"text":{"field":"txt"}}},
{"data":{"name":"txt"},"transform":[{"filter":"datum.p==7 && datum.k=='Ts'"}],"mark":{"type":"text","fontSize":8.5,"align":"left","baseline":"alphabetic","color":"black"},"encoding":{"text":{"field":"txt"}}}
]},
{"width":1263,"height":102,
"encoding":{"x":{"field":"t","type":"quantitative","scale":{"domain":[-11.5,114.8],"nice":false,"zero":false},"axis":null},"y":{"field":"v","type":"quantitative","scale":{"domain":[-0.3725,1.6275],"nice":false,"zero":false},"axis":null}},
"layer":[
{"data":{"name":"seg"},"transform":[{"filter":"datum.p==8 && datum.k=='d'"}],"mark":{"type":"rule","color":"black","strokeWidth":1.3,"strokeDash":[7,5]},"encoding":{"x2":{"field":"t2"},"y2":{"field":"v2"}}},
{"data":{"name":"seg"},"transform":[{"filter":"datum.p==8 && datum.k=='a'"}],"mark":{"type":"rule","color":"black","strokeWidth":2},"encoding":{"x2":{"field":"t2"},"y2":{"field":"v2"}}},
{"data":{"name":"step"},"transform":[{"filter":"datum.s=='<VDD2>'"}],"mark":{"type":"line","color":"black","strokeWidth":2.3,"interpolate":"step-after"},"encoding":{"order":{"value":null}}},
{"data":{"name":"head"},"transform":[{"filter":"datum.p==8 && datum.k=='ax'"}],"mark":{"type":"point","shape":"M0,0L-0.34,1L0.34,1Z","size":1764,"filled":true,"color":"black","opacity":1,"strokeWidth":0},"encoding":{"angle":{"field":"dir","type":"quantitative","scale":null}}},
{"data":{"name":"txt"},"transform":[{"filter":"datum.p==8 && datum.k=='B'"}],"mark":{"type":"text","fontSize":17.5,"align":"right","baseline":"middle","color":"black"},"encoding":{"text":{"field":"txt"}}}
]},
{"width":1263,"height":152,
"encoding":{"x":{"field":"t","type":"quantitative","scale":{"domain":[-11.5,114.8],"nice":false,"zero":false},"axis":null},"y":{"field":"v","type":"quantitative","scale":{"domain":[-3.674,26.19],"nice":false,"zero":false},"axis":null}},
"layer":[
{"data":{"name":"seg"},"transform":[{"filter":"datum.p==9 && datum.k=='d'"}],"mark":{"type":"rule","color":"black","strokeWidth":1.3,"strokeDash":[7,5]},"encoding":{"x2":{"field":"t2"},"y2":{"field":"v2"}}},
{"data":{"name":"seg"},"transform":[{"filter":"datum.p==9 && datum.k=='a'"}],"mark":{"type":"rule","color":"black","strokeWidth":2},"encoding":{"x2":{"field":"t2"},"y2":{"field":"v2"}}},
{"data":{"name":"sig"},"transform":[{"filter":"datum.s=='V20V'"}],"mark":{"type":"line","color":"black","strokeWidth":2.3},"encoding":{"order":{"value":null}}},
{"data":{"name":"head"},"transform":[{"filter":"datum.p==9 && datum.k=='ax'"}],"mark":{"type":"point","shape":"M0,0L-0.34,1L0.34,1Z","size":1764,"filled":true,"color":"black","opacity":1,"strokeWidth":0},"encoding":{"angle":{"field":"dir","type":"quantitative","scale":null}}},
{"data":{"name":"txt"},"transform":[{"filter":"datum.p==9 && datum.k=='L'"}],"mark":{"type":"text","fontSize":20,"align":"left","baseline":"alphabetic","color":"black"},"encoding":{"text":{"field":"txt"}}},
{"data":{"name":"txt"},"transform":[{"filter":"datum.p==9 && datum.k=='Ls'"}],"mark":{"type":"text","fontSize":11.5,"align":"left","baseline":"alphabetic","color":"black"},"encoding":{"text":{"field":"txt"}}},
{"data":{"name":"txt"},"transform":[{"filter":"datum.p==9 && datum.k=='Tv'"}],"mark":{"type":"text","fontSize":13,"align":"left","baseline":"alphabetic","color":"black"},"encoding":{"text":{"field":"txt"}}},
{"data":{"name":"txt"},"transform":[{"filter":"datum.p==9 && datum.k=='Ts'"}],"mark":{"type":"text","fontSize":8.8,"align":"left","baseline":"alphabetic","color":"black"},"encoding":{"text":{"field":"txt"}}}
]},
{"width":1263,"height":102,
"encoding":{"x":{"field":"t","type":"quantitative","scale":{"domain":[-11.5,114.8],"nice":false,"zero":false},"axis":null},"y":{"field":"v","type":"quantitative","scale":{"domain":[-0.3725,1.6275],"nice":false,"zero":false},"axis":null}},
"layer":[
{"data":{"name":"seg"},"transform":[{"filter":"datum.p==10 && datum.k=='d'"}],"mark":{"type":"rule","color":"black","strokeWidth":1.3,"strokeDash":[7,5]},"encoding":{"x2":{"field":"t2"},"y2":{"field":"v2"}}},
{"data":{"name":"seg"},"transform":[{"filter":"datum.p==10 && datum.k=='a'"}],"mark":{"type":"rule","color":"black","strokeWidth":2},"encoding":{"x2":{"field":"t2"},"y2":{"field":"v2"}}},
{"data":{"name":"step"},"transform":[{"filter":"datum.s=='<V20V>'"}],"mark":{"type":"line","color":"black","strokeWidth":2.3,"interpolate":"step-after"},"encoding":{"order":{"value":null}}},
{"data":{"name":"head"},"transform":[{"filter":"datum.p==10 && datum.k=='ax'"}],"mark":{"type":"point","shape":"M0,0L-0.34,1L0.34,1Z","size":1764,"filled":true,"color":"black","opacity":1,"strokeWidth":0},"encoding":{"angle":{"field":"dir","type":"quantitative","scale":null}}},
{"data":{"name":"txt"},"transform":[{"filter":"datum.p==10 && datum.k=='B'"}],"mark":{"type":"text","fontSize":17.5,"align":"right","baseline":"middle","color":"black"},"encoding":{"text":{"field":"txt"}}}
]},
{"width":1263,"height":102,
"encoding":{"x":{"field":"t","type":"quantitative","scale":{"domain":[-11.5,114.8],"nice":false,"zero":false},"axis":null},"y":{"field":"v","type":"quantitative","scale":{"domain":[-0.3824,1.6176],"nice":false,"zero":false},"axis":null}},
"layer":[
{"data":{"name":"seg"},"transform":[{"filter":"datum.p==11 && datum.k=='d'"}],"mark":{"type":"rule","color":"black","strokeWidth":1.3,"strokeDash":[7,5]},"encoding":{"x2":{"field":"t2"},"y2":{"field":"v2"}}},
{"data":{"name":"seg"},"transform":[{"filter":"datum.p==11 && datum.k=='a'"}],"mark":{"type":"rule","color":"black","strokeWidth":2},"encoding":{"x2":{"field":"t2"},"y2":{"field":"v2"}}},
{"data":{"name":"step"},"transform":[{"filter":"datum.s=='RESETB'"}],"mark":{"type":"line","color":"black","strokeWidth":2.3,"interpolate":"step-after"},"encoding":{"order":{"value":null}}},
{"data":{"name":"head"},"transform":[{"filter":"datum.p==11 && datum.k=='ax'"}],"mark":{"type":"point","shape":"M0,0L-0.34,1L0.34,1Z","size":1764,"filled":true,"color":"black","opacity":1,"strokeWidth":0},"encoding":{"angle":{"field":"dir","type":"quantitative","scale":null}}},
{"data":{"name":"txt"},"transform":[{"filter":"datum.p==11 && datum.k=='B'"}],"mark":{"type":"text","fontSize":17.5,"align":"right","baseline":"middle","color":"black"},"encoding":{"text":{"field":"txt"}}}
]},
{"width":1263,"height":101,
"encoding":{"x":{"field":"t","type":"quantitative","scale":{"domain":[-11.5,114.8],"nice":false,"zero":false},"axis":null},"y":{"field":"v","type":"quantitative","scale":{"domain":[-0.3725,1.6078],"nice":false,"zero":false},"axis":null}},
"layer":[
{"data":{"name":"seg"},"transform":[{"filter":"datum.p==12 && datum.k=='d'"}],"mark":{"type":"rule","color":"black","strokeWidth":1.3,"strokeDash":[7,5]},"encoding":{"x2":{"field":"t2"},"y2":{"field":"v2"}}},
{"data":{"name":"seg"},"transform":[{"filter":"datum.p==12 && datum.k=='a'"}],"mark":{"type":"rule","color":"black","strokeWidth":2},"encoding":{"x2":{"field":"t2"},"y2":{"field":"v2"}}},
{"data":{"name":"step"},"transform":[{"filter":"datum.s=='SAVEB'"}],"mark":{"type":"line","color":"black","strokeWidth":2.3,"interpolate":"step-after"},"encoding":{"order":{"value":null}}},
{"data":{"name":"head"},"transform":[{"filter":"datum.p==12 && datum.k=='ax'"}],"mark":{"type":"point","shape":"M0,0L-0.34,1L0.34,1Z","size":1764,"filled":true,"color":"black","opacity":1,"strokeWidth":0},"encoding":{"angle":{"field":"dir","type":"quantitative","scale":null}}},
{"data":{"name":"txt"},"transform":[{"filter":"datum.p==12 && datum.k=='B'"}],"mark":{"type":"text","fontSize":17.5,"align":"right","baseline":"middle","color":"black"},"encoding":{"text":{"field":"txt"}}}
]},
{"width":1263,"height":155,
"encoding":{"x":{"field":"t","type":"quantitative","scale":{"domain":[-11.5,114.8],"nice":false,"zero":false},"axis":null},"y":{"field":"v","type":"quantitative","scale":{"domain":[-1.4118,1.6275],"nice":false,"zero":false},"axis":null}},
"layer":[
{"data":{"name":"seg"},"transform":[{"filter":"datum.p==13 && datum.k=='d'"}],"mark":{"type":"rule","color":"black","strokeWidth":1.3,"strokeDash":[7,5]},"encoding":{"x2":{"field":"t2"},"y2":{"field":"v2"}}},
{"data":{"name":"seg"},"transform":[{"filter":"datum.p==13 && datum.k=='a'"}],"mark":{"type":"rule","color":"black","strokeWidth":2},"encoding":{"x2":{"field":"t2"},"y2":{"field":"v2"}}},
{"data":{"name":"seg"},"transform":[{"filter":"datum.p==13 && datum.k=='s'"}],"mark":{"type":"rule","color":"black","strokeWidth":1.2},"encoding":{"x2":{"field":"t2"},"y2":{"field":"v2"}}},
{"data":{"name":"step"},"transform":[{"filter":"datum.s=='XCLK'"}],"mark":{"type":"line","color":"black","strokeWidth":2,"interpolate":"step-after"},"encoding":{"order":{"value":null}}},
{"data":{"name":"head"},"transform":[{"filter":"datum.p==13 && datum.k=='ax'"}],"mark":{"type":"point","shape":"M0,0L-0.34,1L0.34,1Z","size":1764,"filled":true,"color":"black","opacity":1,"strokeWidth":0},"encoding":{"angle":{"field":"dir","type":"quantitative","scale":null}}},
{"data":{"name":"txt"},"transform":[{"filter":"datum.p==13 && datum.k=='B'"}],"mark":{"type":"text","fontSize":17.5,"align":"right","baseline":"middle","color":"black"},"encoding":{"text":{"field":"txt"}}},
{"data":{"name":"txt"},"transform":[{"filter":"datum.p==13 && datum.k=='P'"}],"mark":{"type":"text","fontSize":20,"align":"center","baseline":"middle","color":"black"},"encoding":{"text":{"field":"txt"}}},
{"data":{"name":"txt"},"transform":[{"filter":"datum.p==13 && datum.k=='tt'"}],"mark":{"type":"text","fontSize":17,"align":"center","baseline":"middle","color":"black"},"encoding":{"text":{"field":"txt"}}},
{"data":{"name":"txt"},"transform":[{"filter":"datum.p==13 && datum.k=='RB'"}],"mark":{"type":"text","fontSize":13,"fontWeight":"bold","align":"left","baseline":"middle","color":"black"},"encoding":{"text":{"field":"txt"}}},
{"data":{"name":"txt"},"transform":[{"filter":"datum.p==13 && datum.k=='R'"}],"mark":{"type":"text","fontSize":13,"align":"left","baseline":"middle","color":"black"},"encoding":{"text":{"field":"txt"}}}
]}
]
}
